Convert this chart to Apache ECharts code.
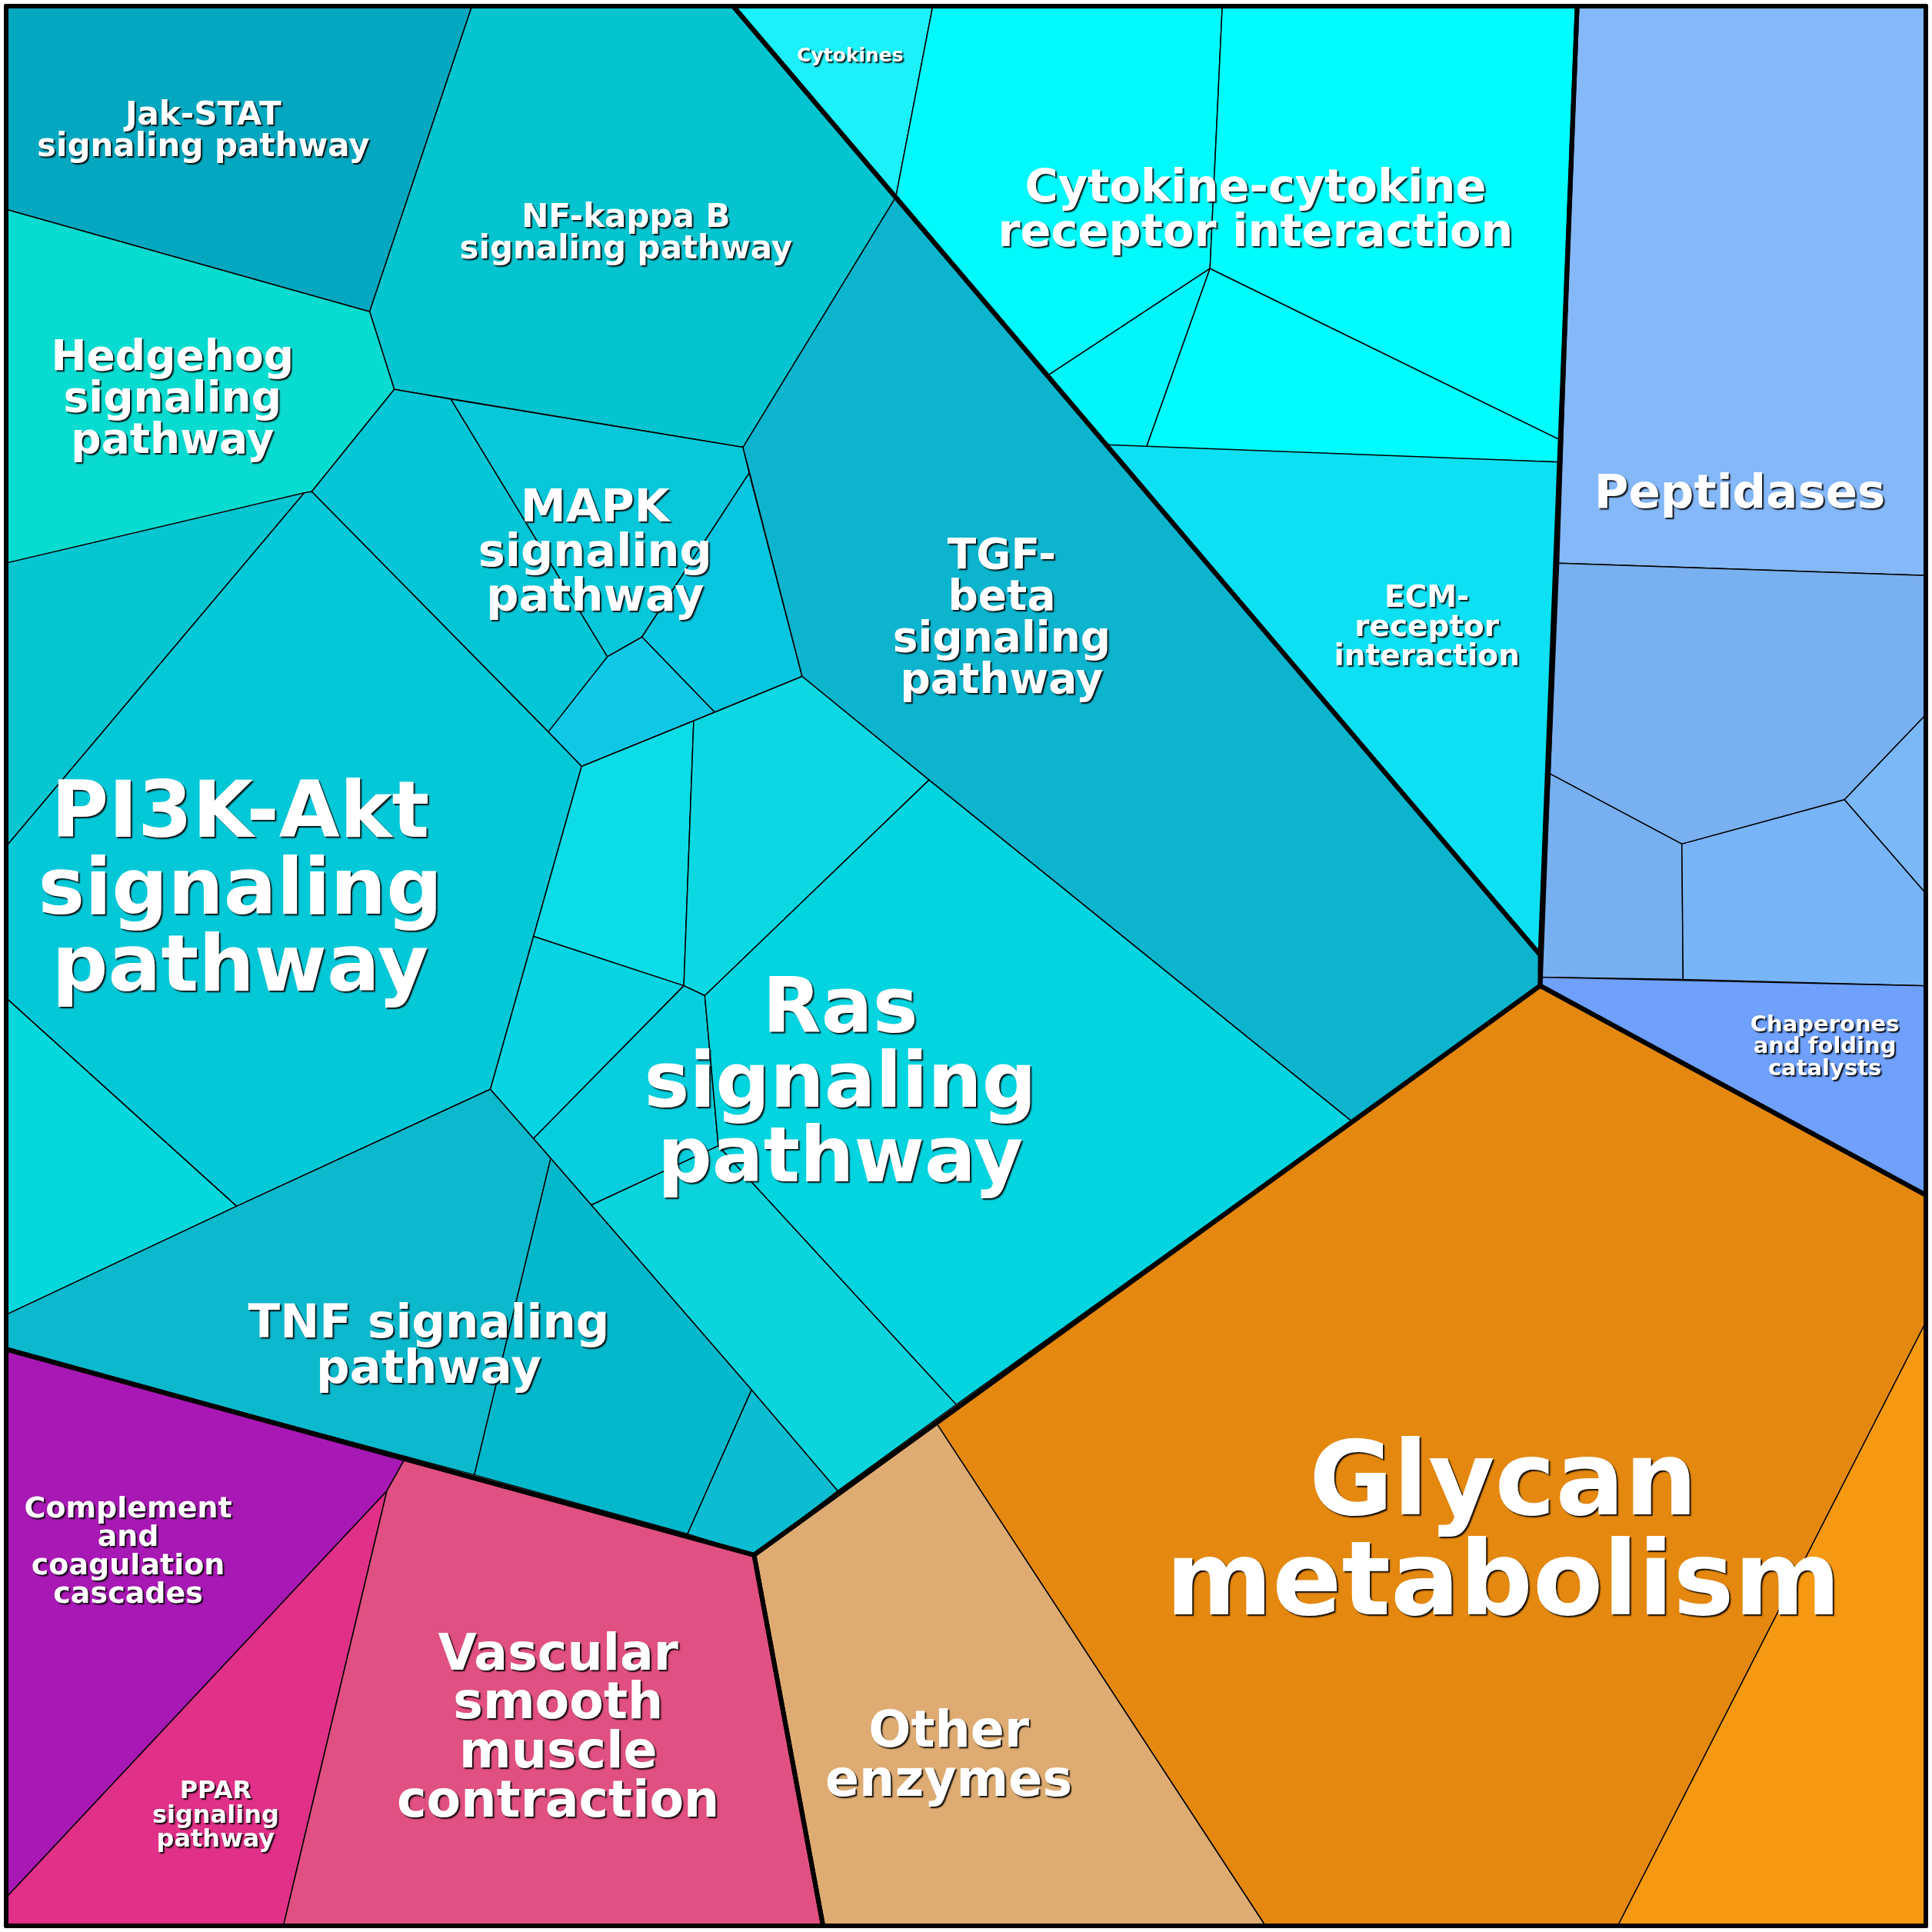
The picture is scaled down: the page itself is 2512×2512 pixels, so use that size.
<!DOCTYPE html>
<html><head><meta charset="utf-8">
<script src="https://cdn.jsdelivr.net/npm/echarts@6/dist/echarts.min.js"></script>
<style>html,body{margin:0;padding:0;background:#fff}#c{width:2512px;height:2512px}</style>
</head><body><div id="c"></div>
<script>
// Cell polygons (in chart units 0..1568, y downward)
const cellPolygons = [
 [[5,5],[383,5],[300,253],[5,170]],
 [[383,5],[595,5],[727,160],[603,363],[320,316],[300,253]],
 [[5,170],[300,253],[320,316],[253,399],[5,457]],
 [[320,316],[366,324],[493,533],[445,594],[253,399]],
 [[366,324],[603,363],[608,384],[521,517],[493,533]],
 [[608,384],[651,549],[580,578],[521,517]],
 [[493,533],[521,517],[580,578],[472,622],[445,594]],
 [[603,363],[727,160],[1250,775],[1250,800],[1097,910],[754,633],[651,549]],
 [[5,457],[247,400],[5,687]],
 [[247,400],[253,399],[445,594],[472,622],[433,760],[398,884],[192,979],[5,810],[5,687]],
 [[5,810],[192,979],[5,1067]],
 [[5,1067],[192,979],[398,884],[433,924],[447,940],[385,1197],[5,1095]],
 [[447,940],[480,978],[610,1128],[558,1245],[385,1197]],
 [[610,1128],[680,1210],[612,1262],[558,1245]],
 [[472,622],[563,585],[555,800],[433,760]],
 [[563,585],[651,549],[754,633],[572,808],[555,800]],
 [[433,760],[555,800],[433,924],[398,884]],
 [[555,800],[572,808],[583,930],[480,978],[433,924]],
 [[572,808],[754,633],[1097,910],[776,1140],[583,930]],
 [[583,930],[776,1140],[680,1210],[610,1128],[480,978]],
 [[595,5],[757,5],[727,160]],
 [[757,5],[992,5],[982,218],[850,305],[727,160]],
 [[992,5],[1280,5],[1266,357],[982,218]],
 [[850,305],[982,218],[930,364],[898,361]],
 [[982,218],[1266,357],[1265,375],[930,364]],
 [[898,361],[1265,375],[1250,775]],
 [[1280,5],[1563,5],[1563,467],[1265,457]],
 [[1265,457],[1563,467],[1563,580],[1497,649],[1365,685],[1258,628]],
 [[1258,628],[1365,685],[1366,795],[1250,793]],
 [[1365,685],[1497,649],[1563,725],[1563,800],[1366,795]],
 [[1563,580],[1563,725],[1497,649]],
 [[1250,793],[1563,800],[1563,970],[1250,800]],
 [[1250,800],[1563,970],[1563,1073],[1313,1563],[1027,1563],[760,1155],[1097,910]],
 [[1563,1073],[1563,1563],[1313,1563]],
 [[612,1262],[760,1155],[1027,1563],[668,1563]],
 [[5,1095],[328,1185],[314,1210],[5,1540]],
 [[314,1210],[230,1563],[5,1563],[5,1540]],
 [[328,1185],[612,1262],[668,1563],[230,1563],[314,1210]]
];
const cellColors = ['#03a8c0','#04c4d0','#08dcd0','#05c6d6','#06c8da','#08c6e0','#10c8e6','#0cb4ce',
 '#06c6d2','#03c8d8','#04d8dc','#0cb8cc','#04b8cc','#0cbcd0','#0cdce6','#0cd8e2','#06d4e2','#06cede','#02d4e0','#0cd4dc',
 '#1cf0f8','#00fafc','#00fcfc','#00f6fa','#00fcfc','#0ce0f2',
 '#84b8f8','#78b0f0','#76b0f0','#78b4f8','#7ab8f8','#6ea0fc',
 '#e4880f','#f59812','#deac72','#a818b4','#e03088','#e05082'];
// Top-level group outlines
const groupPolygons = [
 [[5,5],[595,5],[1250,775],[1250,800],[612,1262],[5,1095]],
 [[595,5],[1280,5],[1250,775]],
 [[1280,5],[1563,5],[1563,970],[1250,800]],
 [[1250,800],[1563,970],[1563,1563],[668,1563],[612,1262]],
 [[5,1095],[612,1262],[668,1563],[5,1563]],
 [[5,5],[1563,5],[1563,1563],[5,1563]]
];
const labelTexts = ['Jak-STAT\nsignaling pathway','NF-kappa B\nsignaling pathway','Hedgehog\nsignaling\npathway','MAPK\nsignaling\npathway',
 'TGF-\nbeta\nsignaling\npathway','PI3K-Akt\nsignaling\npathway','Ras\nsignaling\npathway','TNF signaling\npathway','Cytokines',
 'Cytokine-cytokine\nreceptor interaction','ECM-\nreceptor\ninteraction','Peptidases','Chaperones\nand folding\ncatalysts',
 'Glycan\nmetabolism','Other\nenzymes','Complement\nand\ncoagulation\ncascades','PPAR\nsignaling\npathway','Vascular\nsmooth\nmuscle\ncontraction'];
const labelX = [165,508,140,483,813,195,682,348,690,1019,1158,1412,1481,1220,770,104,175,453];
const labelY = [107,190,325,450,503,725,882,1094,46,172,510,402,850,1248,1427,1260,1474,1404];
const labelSize = [42,42,55,59,55,102,99,61,25,59,39,61,29,133,65,38,32,65];

const chart = echarts.init(document.getElementById('c'));
function polyItem(polys, fillFn, lw){
  return function(params, api){
    const pts = polys[params.dataIndex].map(p => api.coord(p));
    return {type:'polygon', shape:{points:pts}, style:{fill:fillFn(params.dataIndex), stroke:'#000', lineWidth:lw, lineJoin:'round'}};
  };
}
chart.setOption({
  animation:false,
  backgroundColor:'#fff',
  grid:{left:0,right:0,top:0,bottom:0},
  xAxis:{type:'value',min:0,max:1568,show:false},
  yAxis:{type:'value',min:0,max:1568,inverse:true,show:false},
  series:[
    {type:'custom', renderItem:polyItem(cellPolygons, i=>cellColors[i], 1.5), data:cellPolygons.map((_,i)=>i), z:1},
    {type:'custom', renderItem:polyItem(groupPolygons, ()=>'none', 6), data:groupPolygons.map((_,i)=>i), z:2},
    {type:'scatter', symbolSize:0, z:3, itemStyle:{opacity:1}, emphasis:{disabled:true},
     data:labelTexts.map((t,i)=>({value:[labelX[i],labelY[i]],
      label:{show:true,position:'inside',formatter:t,fontSize:labelSize[i],lineHeight:labelSize[i]*0.98,
        fontFamily:'DejaVu Sans',fontWeight:'bold',color:'#ffffff',opacity:1,align:'center',verticalAlign:'middle',
        textShadowColor:'rgba(0,0,0,0.9)',textShadowOffsetX:2,textShadowOffsetY:2,textShadowBlur:1.5}}))}
  ]
});
</script></body></html>
